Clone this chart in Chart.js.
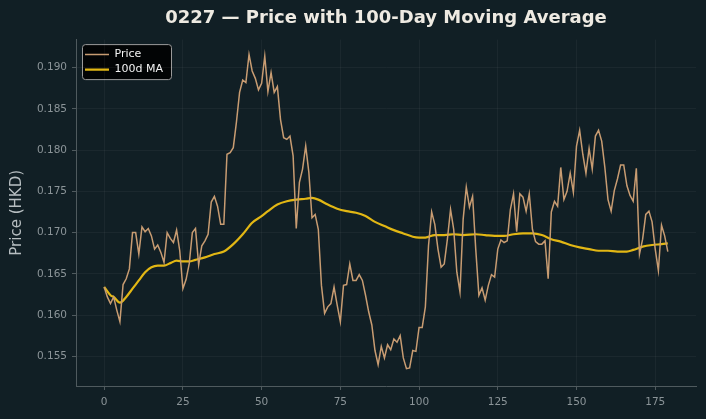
<!DOCTYPE html>
<html>
<head>
<meta charset="utf-8">
<script src="https://cdn.jsdelivr.net/npm/chart.js@4/dist/chart.umd.min.js"></script>
<style>
  html, body { margin: 0; padding: 0; background: #111f25; }
  #wrap { width: 706px; height: 419px; }
</style>
</head>
<body>
<div id="wrap"><canvas id="chart" width="706" height="419"></canvas></div>
<script>
// closing price per trading day (index 0..179)
const priceValues = [
  0.1634, 0.1622, 0.1614, 0.1622, 0.1606, 0.1592, 0.1637, 0.1644, 0.1656, 0.1700,
  0.1700, 0.1674, 0.1707, 0.1701, 0.1705, 0.1696, 0.1680, 0.1685, 0.1676, 0.1664,
  0.1700, 0.1693, 0.1688, 0.1703, 0.1678, 0.1632, 0.1643, 0.1662, 0.1700, 0.1705,
  0.1661, 0.1684, 0.1690, 0.1698, 0.1737, 0.1744, 0.1732, 0.1710, 0.1710, 0.1795,
  0.1797, 0.1803, 0.1834, 0.1870, 0.1885, 0.1882, 0.1916, 0.1896, 0.1887, 0.1873,
  0.1881, 0.1914, 0.1871, 0.1894, 0.1870, 0.1877, 0.1837, 0.1815, 0.1813, 0.1817,
  0.1793, 0.1705, 0.1761, 0.1777, 0.1805, 0.1773, 0.1718, 0.1722, 0.1704, 0.1636,
  0.1602, 0.1610, 0.1614, 0.1634, 0.1612, 0.1592, 0.1636, 0.1637, 0.1662, 0.1642,
  0.1642, 0.1649, 0.1642, 0.1624, 0.1604, 0.1588, 0.1557, 0.1540, 0.1562, 0.1548,
  0.1564, 0.1558, 0.1571, 0.1567, 0.1575, 0.1548, 0.1535, 0.1536, 0.1557, 0.1556,
  0.1585, 0.1585, 0.1610, 0.1684, 0.1725, 0.1710, 0.1680, 0.1658, 0.1662, 0.1692,
  0.1728, 0.1704, 0.1652, 0.1628, 0.1716, 0.1755, 0.1731, 0.1744, 0.1680, 0.1624,
  0.1633, 0.1618, 0.1636, 0.1649, 0.1646, 0.1680, 0.1691, 0.1688, 0.1690, 0.1728,
  0.1747, 0.1701, 0.1747, 0.1743, 0.1726, 0.1747, 0.1704, 0.1689, 0.1686, 0.1686,
  0.1690, 0.1644, 0.1725, 0.1738, 0.1732, 0.1779, 0.1740, 0.1750, 0.1772, 0.1749,
  0.1805, 0.1824, 0.1795, 0.1772, 0.1802, 0.1777, 0.1817, 0.1824, 0.1811, 0.1779,
  0.1740, 0.1726, 0.1751, 0.1765, 0.1782, 0.1782, 0.1757, 0.1745, 0.1738, 0.1778,
  0.1674, 0.1692, 0.1722, 0.1726, 0.1713, 0.1680, 0.1654, 0.1709, 0.1696, 0.1677
];

const maDays = [
  0, 2, 3, 5, 7, 9, 11, 13, 15, 17, 19, 21, 23, 25, 27, 29, 32, 35, 38, 41,
  44, 47, 50, 52, 55, 58, 61, 64, 66, 68, 71, 74, 77, 80, 83, 86, 89, 92, 95, 98,
  100, 102, 105, 108, 111, 114, 118, 121, 124, 127, 130, 133, 136, 139, 142, 145, 148, 151, 154, 157,
  160, 163, 166, 168, 171, 174, 177, 179
];
const maValues = [
  0.1634, 0.1624, 0.1622, 0.1615, 0.1622, 0.1632, 0.1642, 0.1652, 0.1658, 0.1660,
  0.1660, 0.1663, 0.1666, 0.1665, 0.1665, 0.1667, 0.1670, 0.1674, 0.1677, 0.1686,
  0.1698, 0.1712, 0.1720, 0.1726, 0.1734, 0.1738, 0.1740, 0.1741, 0.1742, 0.1740,
  0.1734, 0.1729, 0.1726, 0.1724, 0.1720, 0.1713, 0.1708, 0.1703, 0.1699, 0.1695,
  0.1694, 0.1694, 0.1697, 0.1697, 0.1698, 0.1697, 0.1698, 0.1697, 0.1696, 0.1696,
  0.1698, 0.1699, 0.1699, 0.1697, 0.1692, 0.1689, 0.1685, 0.1682, 0.1680, 0.1678,
  0.1678, 0.1677, 0.1677, 0.1679, 0.1683, 0.1685, 0.1686, 0.1687
];

const xTicks = [0, 25, 50, 75, 100, 125, 150, 175];
const yTicks = [0.155, 0.160, 0.165, 0.170, 0.175, 0.180, 0.185, 0.190];

const FONT = "'DejaVu Sans', sans-serif";
const gridColor = 'rgba(255, 255, 255, 0.045)';
const tickColor = '#8b9498';
const spineColor = '#4f5a5e';

// keep title centered over the plot, and nudge legend inside the axes
const layoutTweaks = {
  id: 'layoutTweaks',
  afterLayout(chart) {
    const t = chart.titleBlock;
    if (t) {
      t.left = chart.chartArea.left;
      t.right = chart.chartArea.right;
    }
    const lg = chart.legend;
    if (lg) {
      lg.left = chart.chartArea.left + 5;
      lg.top = chart.chartArea.top + 5.5;
    }
  },
  beforeDraw(chart) {
    const lg = chart.legend;
    if (!lg) return;
    const ctx = chart.ctx;
    const x = lg.left + 1.5, y = lg.top - 0.5, w = 89, h = 35;
    ctx.save();
    ctx.beginPath();
    ctx.roundRect(x, y, w, h, 3);
    ctx.fillStyle = 'rgba(0, 0, 0, 0.85)';
    ctx.fill();
    ctx.lineWidth = 1;
    ctx.strokeStyle = '#9a9a9a';
    ctx.stroke();
    ctx.restore();
  }
};

new Chart(document.getElementById('chart'), {
  type: 'line',
  data: {
    datasets: [
      {
        label: 'Price',
        data: priceValues.map((v, i) => ({ x: i, y: v })),
        borderColor: '#c89c72',
        backgroundColor: '#c89c72',
        borderWidth: 1.5,
        pointRadius: 0,
        tension: 0
      },
      {
        label: '100d MA',
        data: maDays.map((d, i) => ({ x: d, y: maValues[i] })),
        borderColor: '#e2b714',
        backgroundColor: '#e2b714',
        borderWidth: 2.2,
        pointRadius: 0,
        cubicInterpolationMode: 'monotone'
      }
    ]
  },
  options: {
    responsive: false,
    animation: false,
    layout: { padding: { right: 10 } },
    plugins: {
      title: {
        display: true,
        text: '0227 — Price with 100-Day Moving Average',
        color: '#eeeae2',
        font: { family: FONT, size: 18, weight: 'bold' },
        padding: { top: 8, bottom: 10 }
      },
      legend: {
        position: 'chartArea',
        align: 'start',
        labels: {
          color: '#f2f2f2',
          font: { family: FONT, size: 11 },
          usePointStyle: true,
          pointStyle: 'line',
          pointStyleWidth: 24,
          padding: 4
        }
      },
      tooltip: { enabled: false }
    },
    scales: {
      x: {
        type: 'linear',
        min: -8.95,
        max: 187.95,
        afterBuildTicks: s => { s.ticks = xTicks.map(v => ({ value: v })); },
        afterFit: s => { s.height = 33; },
        grid: { color: gridColor, tickColor: spineColor, tickLength: 4 },
        border: { color: spineColor },
        ticks: { color: tickColor, font: { family: FONT, size: 10.5 }, padding: 6, maxRotation: 0 }
      },
      y: {
        type: 'linear',
        min: 0.1514,
        max: 0.1934,
        afterBuildTicks: s => { s.ticks = yTicks.map(v => ({ value: v })); },
        afterFit: s => { s.width = 76; },
        grid: { color: gridColor, tickColor: spineColor, tickLength: 4 },
        border: { color: spineColor },
        ticks: {
          color: tickColor,
          font: { family: FONT, size: 10.5 },
          padding: 5,
          callback: v => v.toFixed(3)
        },
        title: {
          display: true,
          text: 'Price (HKD)',
          color: '#b7bec1',
          font: { family: FONT, size: 15 },
          padding: { top: 8, bottom: 0 }
        }
      }
    }
  },
  plugins: [layoutTweaks]
});
</script>
</body>
</html>
